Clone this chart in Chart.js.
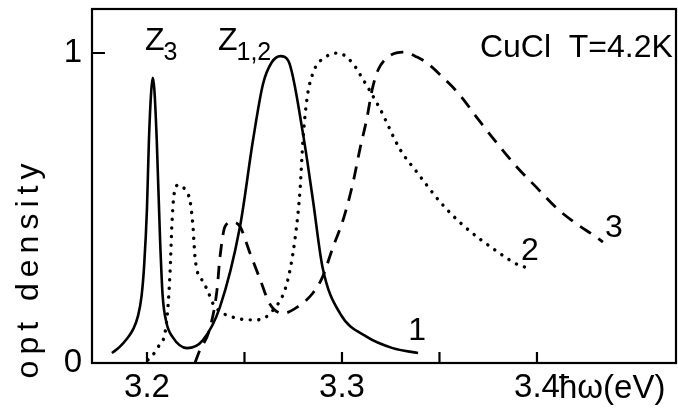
<!DOCTYPE html>
<html>
<head>
<meta charset="utf-8">
<script src="https://cdn.jsdelivr.net/npm/chart.js@4"></script>
<style>
html,body{margin:0;padding:0;background:#fff;}
#c{display:block;}
</style>
</head>
<body>
<canvas id="c" width="678" height="413"></canvas>
<script>
// ---- data ----
const energy1  = [3.182,3.186,3.1897,3.193,3.1954,3.1972,3.1985,3.200,3.201,3.2022,3.203,3.2038,3.205,3.2067,3.208,3.210,3.213,3.2205,3.2287,3.2374,3.2477,3.2544,3.2595,3.264,3.2685,3.2725,3.28,3.2851,3.290,3.299,3.3128,3.326,3.339];
const density1 = [0.032,0.052,0.078,0.11,0.152,0.215,0.31,0.50,0.72,0.88,0.92,0.88,0.72,0.40,0.22,0.13,0.085,0.048,0.074,0.18,0.44,0.72,0.90,0.97,0.99,0.975,0.74,0.526,0.31,0.16,0.084,0.048,0.032];

const energy2  = [3.2005,3.2056,3.210,3.2118,3.2128,3.2138,3.216,3.2195,3.222,3.223,3.2236,3.224,3.2246,3.2256,3.228,3.231,3.234,3.244,3.2564,3.2646,3.2718,3.2759,3.2785,3.28,3.282,3.2851,3.2923,3.298,3.3051,3.3103,3.3195,3.3297,3.3385,3.3503,3.362,3.3795,3.391,3.397];
const density2 = [0.01,0.05,0.13,0.29,0.45,0.54,0.574,0.56,0.525,0.48,0.44,0.40,0.345,0.30,0.27,0.235,0.19,0.148,0.139,0.17,0.258,0.40,0.56,0.72,0.85,0.935,0.99,1.0,0.97,0.92,0.82,0.69,0.615,0.52,0.445,0.36,0.315,0.305];

const energy3  = [3.2246,3.227,3.232,3.2359,3.2374,3.24,3.2436,3.2477,3.2528,3.258,3.263,3.2697,3.277,3.285,3.290,3.2954,3.3005,3.3056,3.3092,3.3128,3.3154,3.3185,3.3236,3.3313,3.3385,3.3436,3.3503,3.36,3.37,3.38,3.39,3.40,3.41,3.42,3.43,3.4338];
const density3 = [0.0,0.04,0.106,0.235,0.34,0.44,0.455,0.44,0.355,0.27,0.19,0.16,0.18,0.225,0.277,0.374,0.46,0.58,0.69,0.79,0.88,0.945,0.987,1.003,0.987,0.968,0.93,0.868,0.785,0.705,0.63,0.565,0.50,0.45,0.408,0.39];

const xTickValues = [3.2,3.25,3.3,3.35,3.4];
const xTickLabels = ['3.2','','3.3','','3.4'];
const yTickValues = [0,1];
const yTickLabels = ['0','1'];

// annotations (text, data-space anchor)
const annotations = [
  {text:'Z', sub:'3',   x:3.1990, y:1.01,  align:'left'},
  {text:'Z', sub:'1,2', x:3.2364, y:1.01,  align:'left'},
  {text:'CuCl  T=4.2K', x:3.4697, y:0.987, align:'right'},
  {text:'1', x:3.3385, y:0.074, align:'center'},
  {text:'2', x:3.3964, y:0.332, align:'center'},
  {text:'3', x:3.4395, y:0.406, align:'center'}
];
const xAxisTitle = 'ħω(eV)';
const yAxisTitle = 'opt density';

const FONT = '"Liberation Sans", Arial, sans-serif';

function pts(xs, ys){ return xs.map((x,i)=>({x:x, y:ys[i]})); }

const framePlugin = {
  id:'frame',
  afterDraw(chart){
    const ctx = chart.ctx, a = chart.chartArea;
    const xs = chart.scales.x, ys = chart.scales.y;
    ctx.save();
    ctx.strokeStyle = '#000';
    ctx.lineWidth = 2.2;
    ctx.strokeRect(a.left, a.top, a.right - a.left, a.bottom - a.top);
    // inward ticks
    ctx.beginPath();
    xTickValues.forEach(v=>{
      const px = xs.getPixelForValue(v);
      ctx.moveTo(px, a.bottom); ctx.lineTo(px, a.bottom - 11);
    });
    yTickValues.forEach(v=>{
      const py = ys.getPixelForValue(v);
      ctx.moveTo(a.left, py); ctx.lineTo(a.left + 13, py);
    });
    ctx.stroke();
    // annotations
    ctx.fillStyle = '#000';
    ctx.textBaseline = 'alphabetic';
    annotations.forEach(an=>{
      const px = xs.getPixelForValue(an.x), py = ys.getPixelForValue(an.y);
      ctx.font = '32px ' + FONT;
      ctx.textAlign = an.align;
      ctx.fillText(an.text, px, py);
      if (an.sub){
        const w = ctx.measureText(an.text).width;
        ctx.font = '25px ' + FONT;
        ctx.textAlign = 'left';
        ctx.fillText(an.sub, px + w - 1, py + 10);
      }
    });
    // x axis title, next to the 3.4 label
    ctx.font = '33px ' + FONT;
    ctx.textAlign = 'left';
    ctx.fillText(xAxisTitle, xs.getPixelForValue(3.4) + 22, a.bottom + 35);
    // y axis title
    ctx.save();
    ctx.translate(38, 268);
    ctx.rotate(-Math.PI/2);
    ctx.textAlign = 'center';
    ctx.font = '32px ' + FONT;
    ctx.letterSpacing = '6px';
    ctx.fillText(yAxisTitle, 0, 0);
    ctx.restore();
    ctx.restore();
  }
};

const lineBase = {pointRadius:0, borderColor:'#000', fill:false, cubicInterpolationMode:'monotone'};

new Chart(document.getElementById('c'), {
  type:'line',
  data:{
    datasets:[
      Object.assign({label:'1', data:pts(energy1,density1), borderWidth:2.6}, lineBase),
      Object.assign({label:'2', data:pts(energy2,density2), borderWidth:3.4, borderDash:[0.1,8.5], borderCapStyle:'round'}, lineBase),
      Object.assign({label:'3', data:pts(energy3,density3), borderWidth:2.8, borderDash:[13,9]}, lineBase)
    ]
  },
  options:{
    responsive:false,
    animation:false,
    layout:{padding:{top:9,right:2,left:0,bottom:0}},
    plugins:{legend:{display:false}, tooltip:{enabled:false}},
    scales:{
      x:{
        type:'linear', min:3.1718, max:3.4713,
        grid:{display:false, drawTicks:false},
        border:{display:false},
        afterBuildTicks(s){ s.ticks = xTickValues.map(v=>({value:v})); },
        afterFit(s){ s.height = 50; s.paddingLeft=0; s.paddingRight=0; },
        ticks:{
          padding:5, color:'#000', maxRotation:0, autoSkip:false,
          font:{family:FONT, size:33},
          callback(v){ const i = xTickValues.indexOf(v); return i>=0 ? xTickLabels[i] : ''; }
        }
      },
      y:{
        min:0, max:1.142,
        grid:{display:false, drawTicks:false},
        border:{display:false},
        afterBuildTicks(s){ s.ticks = yTickValues.map(v=>({value:v})); },
        afterFit(s){ s.width = 92; s.paddingTop=0; s.paddingBottom=0; },
        ticks:{
          padding:10, color:'#000',
          font:{family:FONT, size:33},
          callback(v){ const i = yTickValues.indexOf(v); return i>=0 ? yTickLabels[i] : ''; }
        }
      }
    }
  },
  plugins:[framePlugin]
});
</script>
</body>
</html>
